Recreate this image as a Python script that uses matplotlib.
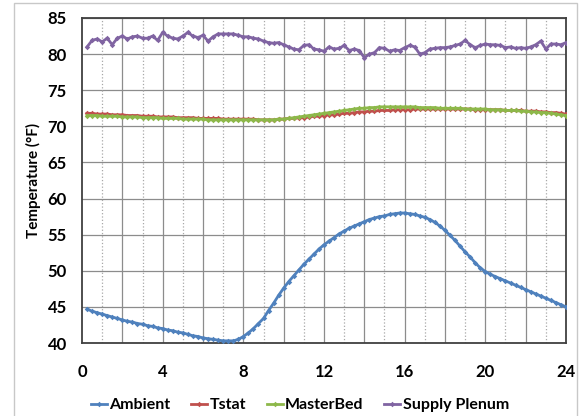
import numpy as np
import matplotlib
matplotlib.use('Agg')
import matplotlib.pyplot as plt
from matplotlib.patches import Rectangle

# 15-minute readings over a day
hours = np.arange(1, 97) * 0.25

ambient = [44.7, 44.4, 44.2, 44.0, 43.8, 43.6, 43.4, 43.2,
           43.0, 42.9, 42.7, 42.6, 42.4, 42.3, 42.1, 42.0,
           41.8, 41.7, 41.5, 41.4, 41.2, 41.0, 40.9, 40.7,
           40.6, 40.5, 40.4, 40.3, 40.3, 40.3, 40.5, 40.9,
           41.4, 42.0, 42.7, 43.4, 44.5, 45.5, 46.6, 47.6,
           48.5, 49.3, 50.1, 50.9, 51.6, 52.3, 53.0, 53.6,
           54.1, 54.6, 55.1, 55.5, 55.9, 56.2, 56.5, 56.8,
           57.1, 57.3, 57.5, 57.6, 57.8, 57.9, 58.0, 58.0,
           57.9, 57.8, 57.6, 57.4, 57.1, 56.7, 56.2, 55.6,
           54.9, 54.2, 53.4, 52.6, 51.9, 51.1, 50.4, 49.9,
           49.5, 49.2, 48.9, 48.6, 48.3, 48.0, 47.7, 47.4,
           47.1, 46.8, 46.5, 46.2, 45.9, 45.6, 45.3, 45.0]

tstat = [71.8, 71.8, 71.7, 71.7, 71.7, 71.6, 71.6, 71.6,
         71.5, 71.5, 71.5, 71.4, 71.4, 71.4, 71.3, 71.3,
         71.3, 71.3, 71.2, 71.2, 71.2, 71.2, 71.1, 71.1,
         71.1, 71.1, 71.1, 71.0, 71.0, 71.0, 71.0, 71.0,
         71.0, 71.0, 70.9, 70.9, 70.9, 70.9, 71.0, 71.0,
         71.1, 71.1, 71.2, 71.2, 71.3, 71.4, 71.4, 71.5,
         71.6, 71.6, 71.7, 71.8, 71.8, 71.9, 72.0, 72.0,
         72.1, 72.1, 72.2, 72.2, 72.2, 72.3, 72.3, 72.3,
         72.3, 72.4, 72.4, 72.4, 72.4, 72.4, 72.4, 72.4,
         72.4, 72.4, 72.4, 72.4, 72.4, 72.3, 72.3, 72.3,
         72.3, 72.3, 72.3, 72.2, 72.2, 72.2, 72.2, 72.1,
         72.1, 72.1, 72.0, 72.0, 71.9, 71.9, 71.8, 71.7]

masterbed = [71.5, 71.5, 71.5, 71.4, 71.4, 71.4, 71.4, 71.3,
             71.3, 71.3, 71.3, 71.2, 71.2, 71.2, 71.2, 71.1,
             71.1, 71.1, 71.1, 71.0, 71.0, 71.0, 71.0, 71.0,
             70.9, 70.9, 70.9, 70.9, 70.9, 70.9, 70.9, 70.9,
             70.9, 70.9, 70.9, 70.9, 70.9, 70.9, 71.0, 71.0,
             71.1, 71.2, 71.3, 71.4, 71.5, 71.6, 71.7, 71.8,
             71.9, 72.0, 72.1, 72.2, 72.3, 72.4, 72.5, 72.5,
             72.6, 72.6, 72.7, 72.7, 72.7, 72.7, 72.7, 72.7,
             72.7, 72.7, 72.6, 72.6, 72.6, 72.6, 72.5, 72.5,
             72.5, 72.5, 72.5, 72.4, 72.4, 72.4, 72.4, 72.4,
             72.3, 72.3, 72.3, 72.2, 72.2, 72.2, 72.1, 72.1,
             72.0, 72.0, 71.9, 71.9, 71.8, 71.7, 71.6, 71.5]

supply_plenum = [81.0, 81.9, 82.1, 81.7, 82.2, 81.3, 82.2, 82.5,
                 82.1, 82.4, 82.5, 82.2, 82.2, 82.5, 81.9, 83.0,
                 82.5, 82.2, 82.1, 82.5, 83.0, 82.5, 82.3, 82.6,
                 81.8, 82.4, 82.8, 82.8, 82.8, 82.8, 82.6, 82.4,
                 82.4, 82.2, 82.1, 81.8, 81.6, 81.5, 81.6, 81.3,
                 81.0, 80.7, 80.6, 81.2, 81.3, 80.7, 80.6, 80.4,
                 81.0, 80.7, 80.8, 81.2, 80.5, 80.7, 80.5, 79.5,
                 80.0, 80.2, 80.9, 80.8, 80.4, 80.6, 80.5, 80.9,
                 81.2, 81.0, 80.0, 80.2, 80.7, 80.8, 80.9, 80.9,
                 81.0, 81.2, 81.4, 81.9, 81.3, 80.9, 81.2, 81.4,
                 81.3, 81.3, 81.2, 80.9, 81.0, 80.8, 80.9, 80.8,
                 81.0, 81.3, 81.8, 80.7, 81.4, 81.4, 81.3, 81.6]

series_names = ['Ambient', 'Tstat', 'MasterBed', 'Supply Plenum']
series_colors = ['#4F81BD', '#C0504D', '#8DB84A', '#8064A2']

plt.rcParams['font.family'] = ['Lato', 'DejaVu Sans']

fig = plt.figure(figsize=(5.79, 4.16), dpi=100)
ax = fig.add_axes([82/579, 1 - 343/416, (566 - 82)/579, (343 - 18)/416])

# light outer chart border
fig.patches.append(Rectangle((14/579, -0.02), (577 - 14)/579, 1.02 - 3/416,
                             transform=fig.transFigure, fill=False,
                             edgecolor='#C8C8C8', lw=1.0))

for vals, name, col in zip([ambient, tstat, masterbed, supply_plenum],
                           series_names, series_colors):
    ax.plot(hours, vals, color=col, lw=2.0, marker='D', markersize=2.8,
            markeredgewidth=0, label=name, zorder=3)

ax.set_xlim(0, 24)
ax.set_ylim(40, 85)
ax.set_xticks(np.arange(0, 25, 4))
ax.set_xticks(np.arange(0, 25, 1), minor=True)
ax.set_yticks(np.arange(40, 86, 5))

# vertical grid: solid every 2 h, dotted every odd hour
for h in range(1, 24):
    if h % 2 == 0:
        ax.axvline(h, color='#8C8C8C', lw=0.9, zorder=1)
    else:
        ax.axvline(h, color='#A8A8A8', lw=0.9, ls=':', zorder=1)
ax.yaxis.grid(True, color='#8C8C8C', lw=0.9, zorder=1)
ax.set_axisbelow(True)

for s in ax.spines.values():
    s.set_color('#404040')
    s.set_linewidth(1.3)

ax.tick_params(axis='both', which='both', length=0, labelsize=12)
ax.tick_params(axis='x', pad=15)
ax.tick_params(axis='y', pad=11)
for lab in ax.get_xticklabels() + ax.get_yticklabels():
    lab.set_fontweight('bold')

ax.set_ylabel('Temperature (°F)', fontsize=11, fontweight='bold', labelpad=5)

fig.legend(loc='center', bbox_to_anchor=(300/579, 1 - 405/416), ncol=4,
           frameon=False, handlelength=1.0, handletextpad=0.15,
           columnspacing=1.3, prop={'weight': 'bold', 'size': 11.5})

fig.savefig('out.png', dpi=100)
